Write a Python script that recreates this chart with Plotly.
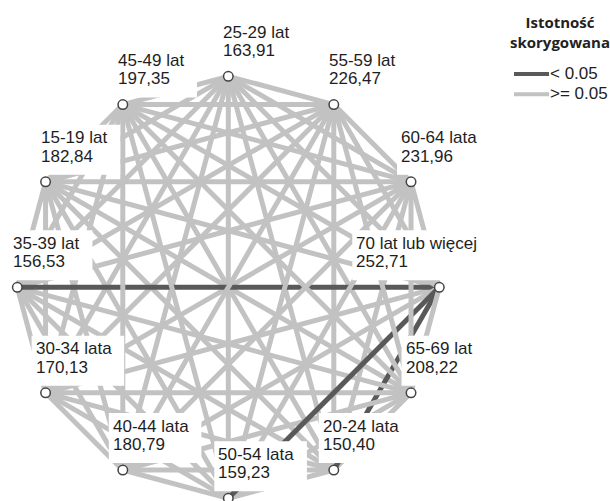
import math
import plotly.graph_objects as go

# ---------------- data ----------------
categories = ["15-19 lat", "20-24 lata", "25-29 lat", "30-34 lata", "35-39 lat",
              "40-44 lata", "45-49 lat", "50-54 lata", "55-59 lat", "60-64 lata",
              "65-69 lat", "70 lat lub więcej"]
mean_ranks = [182.84, 150.40, 163.91, 170.13, 156.53, 180.79, 197.35, 159.23,
              226.47, 231.96, 208.22, 252.71]
# order of nodes clockwise from the top of the circle
circle_order = ["25-29 lat", "55-59 lat", "60-64 lata", "70 lat lub więcej", "65-69 lat",
                "20-24 lata", "50-54 lata", "40-44 lata", "30-34 lata", "35-39 lat",
                "15-19 lat", "45-49 lat"]
significant_pairs = [("20-24 lata", "70 lat lub więcej"),
                     ("35-39 lat", "70 lat lub więcej"),
                     ("50-54 lata", "70 lat lub więcej")]
legend_title = ["Istotność", "skorygowana"]
legend_labels = ["< 0.05", ">= 0.05"]

# ---------------- layout / style ----------------
W, H = 610, 501
CX, CY, R = 228.3, 287.3, 211.0
GRAY = "#c2c2c2"
DARK = "#595959"
FONT = "Liberation Sans, Arial, sans-serif"
FS = 17
label_dx = {"25-29 lat": -5, "55-59 lat": -5, "60-64 lata": -10, "70 lat lub więcej": -83,
            "65-69 lat": -5.5, "20-24 lata": -11, "50-54 lata": -10, "40-44 lata": -10,
            "30-34 lata": -10, "35-39 lat": -4, "15-19 lat": -4.5, "45-49 lat": -5}

# Arial advance widths (em)
AW = {"0": .556, "1": .556, "2": .556, "3": .556, "4": .556, "5": .556, "6": .556,
      "7": .556, "8": .556, "9": .556, "-": .333, " ": .278, ",": .278, "l": .222,
      "a": .556, "t": .278, "u": .556, "b": .556, "w": .722, "i": .222, "ę": .556,
      "c": .5, "e": .556, "j": .222}


def text_w(s):
    return sum(AW.get(ch, .556) for ch in s) * FS


pos = {}
n = len(circle_order)
for k, name in enumerate(circle_order):
    ang = math.radians(90 - 360.0 * k / n)
    pos[name] = (CX + R * math.cos(ang), CY - R * math.sin(ang))

fig = go.Figure()

sig = set(frozenset(p) for p in significant_pairs)
for i in range(len(categories)):
    for j in range(i + 1, len(categories)):
        a, b = categories[i], categories[j]
        (x0, y0), (x1, y1) = pos[a], pos[b]
        col = DARK if frozenset((a, b)) in sig else GRAY
        fig.add_trace(go.Scatter(x=[x0, x1], y=[y0, y1], mode="lines",
                                 line=dict(color=col, width=5),
                                 hoverinfo="skip", showlegend=False))

fig.add_trace(go.Scatter(x=[pos[c][0] for c in categories],
                         y=[pos[c][1] for c in categories],
                         mode="markers",
                         marker=dict(size=9.5, color="white",
                                     line=dict(color="#444444", width=1.5)),
                         hovertext=categories, hoverinfo="text", showlegend=False))

shapes = []
annotations = []
for c, v in zip(categories, mean_ranks):
    nx, ny = pos[c]
    tx = nx + label_dx[c]
    val = f"{v:.2f}".replace(".", ",")
    w = max(text_w(c), text_w(val))
    shapes.append(dict(type="rect", xref="x", yref="y", layer="above",
                       x0=tx - 4, x1=tx + w + 13, y0=ny - 57, y1=ny - 7,
                       fillcolor="white", line=dict(width=0)))
    for txt, dy in ((c, -44), (val, -25.8)):
        annotations.append(dict(x=tx, y=ny + dy, xref="x", yref="y", text=txt,
                                showarrow=False, xanchor="left", yanchor="middle",
                                borderpad=0, borderwidth=0,
                                font=dict(family=FONT, size=FS, color="#1e1e1e")))

# legend
annotations.append(dict(x=560, y=32, xref="x", yref="y",
                        text="<br>".join(f"<b>{t}</b>" for t in legend_title),
                        showarrow=False, xanchor="center", yanchor="middle", align="center",
                        borderpad=0, borderwidth=0,
                        font=dict(family="Open Sans, sans-serif", size=15, color="#222222")))
for col, lab, y in ((DARK, legend_labels[0], 74), (GRAY, legend_labels[1], 94.3)):
    shapes.append(dict(type="line", xref="x", yref="y", x0=514, x1=549, y0=y, y1=y,
                       line=dict(color=col, width=4)))
    annotations.append(dict(x=550, y=y - 1, xref="x", yref="y", text=lab,
                            showarrow=False, xanchor="left", yanchor="middle",
                            borderpad=0, borderwidth=0,
                            font=dict(family=FONT, size=FS, color="#1e1e1e")))

fig.update_layout(width=W, height=H, margin=dict(l=0, r=0, t=0, b=0),
                  paper_bgcolor="white", plot_bgcolor="white", showlegend=False,
                  shapes=shapes, annotations=annotations,
                  xaxis=dict(range=[0, W], visible=False, fixedrange=True),
                  yaxis=dict(range=[H, 0], visible=False, fixedrange=True))

fig.write_html("out.html", config={"displayModeBar": False},
               post_script="document.body.style.margin='0';document.body.style.padding='0';"
                           "document.documentElement.style.overflow='hidden';")
